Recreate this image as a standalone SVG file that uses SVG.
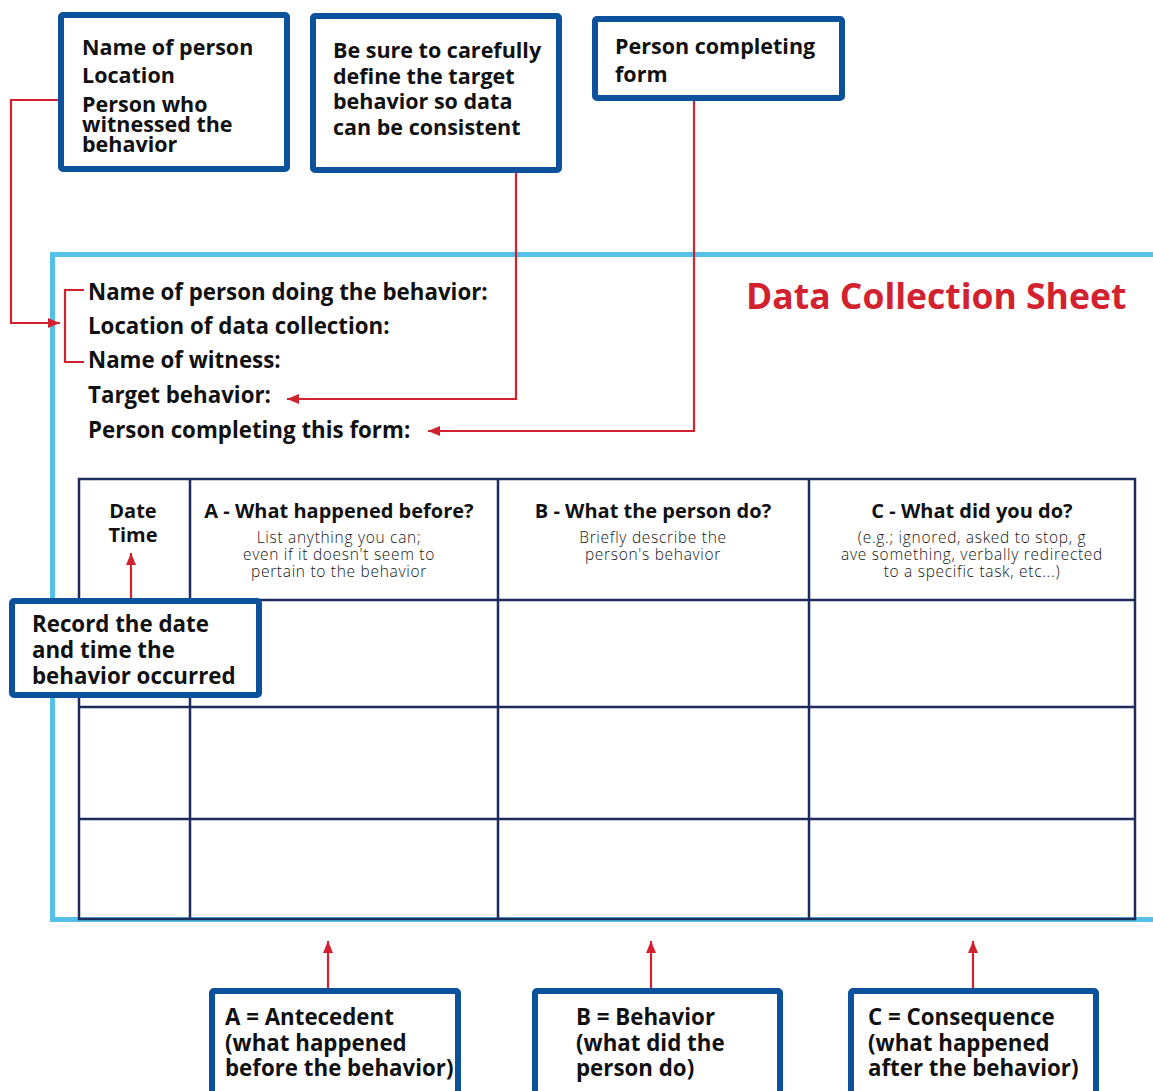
<svg xmlns="http://www.w3.org/2000/svg" width="1153" height="1091" viewBox="0 0 1153 1091">
<defs>
<marker id="arr" markerUnits="userSpaceOnUse" markerWidth="12" markerHeight="10" refX="12" refY="5" orient="auto">
<path d="M0,0 L12,5 L0,10 z" fill="#d3222f"/>
</marker>
<style>
.note{fill:#fff;stroke:#0b519c;stroke-width:6;}
.t{font-family:"Open Sans","Liberation Sans",sans-serif;font-weight:700;fill:#111;}
.nt{font-size:21.5px;}
.lbl{font-size:22.3px;}
.hd{font-size:20px;text-anchor:middle;}
.sub{font-family:"Open Sans","Liberation Sans",sans-serif;font-weight:300;font-size:15.5px;letter-spacing:0.7px;fill:#151515;text-anchor:middle;}
.title{font-family:"Open Sans","Liberation Sans",sans-serif;font-weight:700;font-size:35.5px;fill:#d3222f;}
.grid{fill:none;stroke:#1e2b5c;stroke-width:2.5;}
.con{fill:none;stroke:#d3222f;stroke-width:2.2;}
</style>
</defs>
<rect width="1153" height="1091" fill="#fff"/>

<g id="sheet">
<rect x="52.5" y="254.5" width="1130" height="665" fill="none" stroke="#55c0e8" stroke-width="5"/>
<text class="title" x="746" y="309">Data Collection Sheet</text>
<text class="t lbl" x="88" y="300">Name of person doing the behavior:</text>
<text class="t lbl" x="88" y="334">Location of data collection:</text>
<text class="t lbl" x="88" y="368">Name of witness:</text>
<text class="t lbl" x="88" y="403">Target behavior:</text>
<text class="t lbl" x="88" y="438">Person completing this form:</text>
</g>

<g id="table">
<rect class="grid" x="79" y="479" width="1056" height="440"/>
<line class="grid" x1="190" y1="479" x2="190" y2="919"/>
<line class="grid" x1="498" y1="479" x2="498" y2="919"/>
<line class="grid" x1="809" y1="479" x2="809" y2="919"/>
<line class="grid" x1="79" y1="600" x2="1135" y2="600"/>
<line class="grid" x1="79" y1="707" x2="1135" y2="707"/>
<line class="grid" x1="79" y1="819" x2="1135" y2="819"/>
<text class="t hd" x="133" y="518"><tspan x="133">Date</tspan><tspan x="133" dy="24">Time</tspan></text>
<text class="t hd" x="339" y="518">A - What happened before?</text>
<text class="sub" x="339" y="543"><tspan x="339">List anything you can;</tspan><tspan x="339" dy="17">even if it doesn't seem to</tspan><tspan x="339" dy="17">pertain to the behavior</tspan></text>
<text class="t hd" x="653" y="518">B - What the person do?</text>
<text class="sub" x="653" y="543"><tspan x="653">Briefly describe the</tspan><tspan x="653" dy="17">person's behavior</tspan></text>
<text class="t hd" x="972" y="518">C - What did you do?</text>
<text class="sub" x="972" y="543"><tspan x="972">(e.g.; ignored, asked to stop, g</tspan><tspan x="972" dy="17">ave something, verbally redirected</tspan><tspan x="972" dy="17">to a specific task, etc...)</tspan></text>
</g>

<g id="connectors">
<path class="con" d="M58,100 H11 V323 H60" marker-end="url(#arr)"/>
<path class="con" d="M84,290 H65 V362 H84"/>
<path class="con" d="M516,173 V399 H287" marker-end="url(#arr)"/>
<path class="con" d="M694,101 V431 H428" marker-end="url(#arr)"/>
<path class="con" d="M131,598 V553" marker-end="url(#arr)"/>
<path class="con" d="M328,988 V941" marker-end="url(#arr)"/>
<path class="con" d="M651,988 V941" marker-end="url(#arr)"/>
<path class="con" d="M973,988 V941" marker-end="url(#arr)"/>
</g>

<g id="note-person">
<rect class="note" x="61" y="15" width="226" height="154" rx="2"/>
<text class="t nt" x="82" y="55"><tspan x="82">Name of person</tspan><tspan x="82" dy="28">Location</tspan><tspan x="82" dy="29">Person who</tspan><tspan x="82" dy="20">witnessed the</tspan><tspan x="82" dy="20">behavior</tspan></text>
</g>

<g id="note-target">
<rect class="note" x="313" y="16" width="246" height="154" rx="2"/>
<text class="t nt" x="333" y="58"><tspan x="333">Be sure to carefully</tspan><tspan x="333" dy="26">define the target</tspan><tspan x="333" dy="25">behavior so data</tspan><tspan x="333" dy="26">can be consistent</tspan></text>
</g>

<g id="note-completing">
<rect class="note" x="595" y="19" width="247" height="79" rx="2"/>
<text class="t nt" x="615" y="54"><tspan x="615">Person completing</tspan><tspan x="615" dy="28">form</tspan></text>
</g>

<g id="note-date">
<rect class="note" x="12" y="601" width="247" height="94" rx="2"/>
<text class="t lbl" x="32" y="632"><tspan x="32">Record the date</tspan><tspan x="32" dy="26">and time the</tspan><tspan x="32" dy="26">behavior occurred</tspan></text>
</g>

<g id="note-a">
<rect class="note" x="212" y="991" width="246" height="120" rx="2"/>
<text class="t lbl" x="225" y="1025"><tspan x="225">A = Antecedent</tspan><tspan x="225" dy="26">(what happened</tspan><tspan x="225" dy="25">before the behavior)</tspan></text>
</g>

<g id="note-b">
<rect class="note" x="535" y="991" width="245" height="120" rx="2"/>
<text class="t lbl" x="576" y="1025"><tspan x="576">B = Behavior</tspan><tspan x="576" dy="26">(what did the</tspan><tspan x="576" dy="25">person do)</tspan></text>
</g>

<g id="note-c">
<rect class="note" x="851" y="991" width="245" height="120" rx="2"/>
<text class="t lbl" x="868" y="1025"><tspan x="868">C = Consequence</tspan><tspan x="868" dy="26">(what happened</tspan><tspan x="868" dy="25">after the behavior)</tspan></text>
</g>
</svg>
